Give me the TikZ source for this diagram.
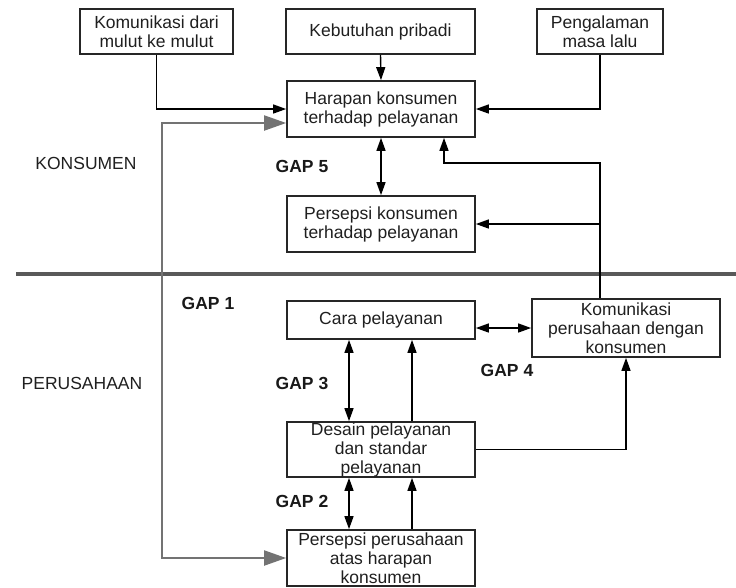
\documentclass[tikz,border=0pt]{standalone}
\usepackage{fontspec}
\setmainfont{Liberation Sans}
\usetikzlibrary{arrows.meta}

\begin{document}
\begin{tikzpicture}[x=1pt, y=-1pt,
	kotak/.style = {draw=black!85, line width=1.7pt, align=center, inner sep=0pt, text=black!88, font=\fontsize{17.5}{19}\selectfont},
	teks/.style = {text=black!88, font=\fontsize{17.5}{19}\selectfont},
	gap/.style = {text=black!90, font=\fontsize{17.5}{19}\selectfont\bfseries},
	panah/.style = {line width=1.4pt, -{Triangle[length=13pt,width=9pt]}},
	panahdua/.style = {line width=1.4pt, {Triangle[length=13pt,width=9pt]}-{Triangle[length=13pt,width=9pt]}},
	abu/.style = {draw=black!55, line width=2pt, {Triangle[length=22pt,width=15pt]}-{Triangle[length=22pt,width=15pt]}}
]

	\useasboundingbox (0,0) rectangle (736,587);

	\draw[line width=4pt, black!65] (16,274) -- (736,274);

	\node[kotak, minimum width=153pt, minimum height=45pt] (kom) at (156.5,31.5) {Komunikasi dari\\mulut ke mulut};
	\node[kotak, minimum width=189pt, minimum height=45pt] (keb) at (380.5,31.5) {Kebutuhan pribadi};
	\node[kotak, minimum width=126pt, minimum height=45pt] (peng) at (600,31.5) {Pengalaman\\masa lalu};
	\node[kotak, minimum width=188pt, minimum height=56pt] (harapan) at (381,109) {Harapan konsumen\\terhadap pelayanan};
	\node[kotak, minimum width=188pt, minimum height=56pt] (perskon) at (381,224) {Persepsi konsumen\\terhadap pelayanan};
	\node[kotak, minimum width=188pt, minimum height=38pt] (cara) at (381,320) {Cara pelayanan};
	\node[kotak, minimum width=188pt, minimum height=58pt] (komper) at (626,328) {Komunikasi\\perusahaan dengan\\konsumen};
	\node[kotak, minimum width=188pt, minimum height=55pt] (desain) at (381,449.5) {Desain pelayanan\\dan standar\\pelayanan};
	\node[kotak, minimum width=188pt, minimum height=56pt] (persper) at (381,558) {Persepsi perusahaan\\atas harapan\\konsumen};

	\node[teks] (konsumen) at (86,163) {KONSUMEN};
	\node[teks] (perusahaan) at (82,383) {PERUSAHAAN};
	\node[gap] (gap5) at (302,166) {GAP 5};
	\node[gap] (gap1) at (208,303) {GAP 1};
	\node[gap] (gap3) at (302,383) {GAP 3};
	\node[gap] (gap4) at (507,370) {GAP 4};
	\node[gap] (gap2) at (302,501) {GAP 2};

	\draw[panah] (kom.south) |- (harapan.west);
	\draw[panah] (keb.south) -- (harapan.north);
	\draw[panah] (peng.south) |- (harapan.east);

	\coordinate (belok) at (162,340);
	\draw[abu] ([yshift=-14pt]harapan.west) -| (belok) |- (persper.west);

	\draw[panahdua] (harapan.south) -- (perskon.north);
	\coordinate (siku) at (600,163);
	\draw[panah] ([xshift=-26pt]komper.north) -- (siku) -| ([xshift=63pt]harapan.south);
	\draw[panah] (perskon.east -| siku) -- (perskon.east);

	\draw[panahdua] (komper.west -| cara.east) -- (komper.west);
	\draw[panahdua] ([xshift=-32pt]cara.south) -- ([xshift=-32pt]desain.north);
	\draw[panah] ([xshift=31pt]desain.north) -- ([xshift=31pt]cara.south);
	\draw[panah] (desain.east) -| (komper.south);
	\draw[panahdua] ([xshift=-32pt]desain.south) -- ([xshift=-32pt]persper.north);
	\draw[panah] ([xshift=31pt]persper.north) -- ([xshift=31pt]desain.south);

\end{tikzpicture}
\end{document}
